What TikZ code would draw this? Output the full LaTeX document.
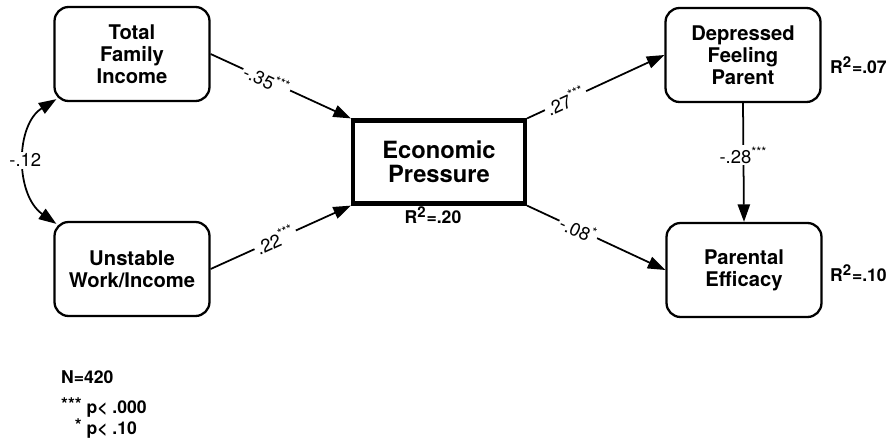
\documentclass[tikz,border=0pt]{standalone}
\usepackage{fontspec}
\setmainfont{TeX Gyre Heros}
\usetikzlibrary{arrows.meta}

\begin{document}
\begin{tikzpicture}[x=0.02cm, y=-0.02cm,
    var/.style={draw, line width=1.3pt, rounded corners=8pt, align=center,
        minimum width=3.1cm, minimum height=1.88cm,
        font=\bfseries\fontsize{11.5}{12.5}\selectfont},
    path/.style={-{Triangle[length=10pt,width=7pt]}, line width=1pt},
    coef/.style={fill=white, inner sep=1pt, font=\fontsize{10.5}{12}\selectfont},
    rsq/.style={font=\bfseries\fontsize{10}{12}\selectfont}]
        \useasboundingbox (0,0) rectangle (889,447);

        % Exogenous variables
        \node[var] (tfi) at (132,54) {Total\\Family\\Income};
        \node[var] (uwi) at (132,269) {Unstable\\Work/Income};

        % Mediator
        \node[draw, line width=2.4pt, align=center, minimum width=3.44cm, minimum height=1.66cm,
            font=\bfseries\fontsize{13.5}{13.5}\selectfont] (ep) at (439,162) {Economic\\Pressure};
        \node[rsq] (rep) at (433,215) {R\textsuperscript{\fontsize{8.5}{9}\selectfont 2}=.20};

        % Outcomes
        \node[var] (dfp) at (743,55) {Depressed\\Feeling\\Parent};
        \node[rsq, anchor=west] (rdfp) at (824,65) {R\textsuperscript{\fontsize{8.5}{9}\selectfont 2}=.07};
        \node[var] (pe) at (744,270) {Parental\\Efficacy};
        \node[rsq, anchor=west] (rpe) at (824,273) {R\textsuperscript{\fontsize{8.5}{9}\selectfont 2}=.10};

        % Correlation between the exogenous variables
        \draw[{Triangle[length=10pt,width=7pt]}-{Triangle[length=10pt,width=7pt]}, line width=1pt]
            ([shift={(3,-3)}]tfi.south west) .. controls (15,125) and (15,195) ..
            node[coef, pos=0.5] {-.12} ([shift={(3,3)}]uwi.north west);

        % Paths into economic pressure
        \draw[path] (tfi.east) -- node[coef, sloped, pos=0.4] {-.35\textsuperscript{***}} (ep.north west);
        \draw[path] (uwi.east) -- node[coef, sloped, pos=0.46] {.22\textsuperscript{***}} (ep.south west);

        % Paths out of economic pressure
        \draw[path] (ep.north east) -- node[coef, sloped, pos=0.28] {.27\textsuperscript{***}} (dfp.west);
        \draw[path] (ep.south east) -- node[coef, sloped, pos=0.37] {-.08\textsuperscript{*}} (pe.west);
        \draw[path] (dfp.south) -- node[coef, pos=0.44] {-.28\textsuperscript{***}} (pe.north);

        % Sample size and significance
        \node[rsq, anchor=west] (n) at (55,377) {N=420};
        \node[rsq, anchor=west, align=left] (sig) at (55,418)
            {\raisebox{1.5pt}{***} p< .000\\\hphantom{\raisebox{1.5pt}{**}}\raisebox{1.5pt}{*} p< .10};
    \end{tikzpicture}
\end{document}
